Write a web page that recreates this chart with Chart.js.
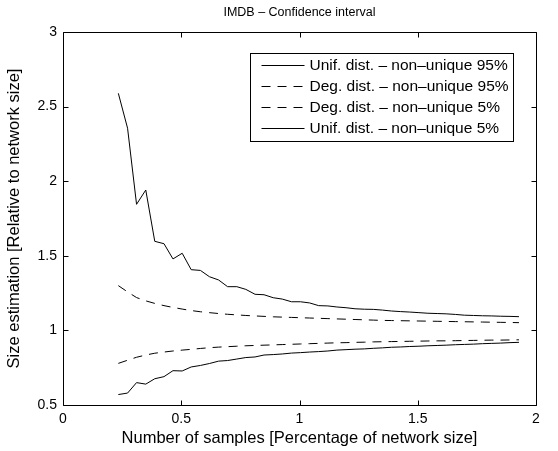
<!DOCTYPE html>
<html>
<head>
<meta charset="utf-8">
<title>IMDB – Confidence interval</title>
<script src="https://cdn.jsdelivr.net/npm/chart.js@4.4.1/dist/chart.umd.min.js"></script>
<style>
  html, body { margin: 0; padding: 0; background: #fff; }
  #chart { display: block; }
</style>
</head>
<body>
<canvas id="chart" width="558" height="451"></canvas>
<script>
// sample sizes, percentage of network size
const samplePct = [
  0.234, 0.273, 0.311, 0.350, 0.388, 0.427, 0.465, 0.504, 0.542, 0.581,
  0.619, 0.658, 0.696, 0.735, 0.773, 0.812, 0.850, 0.889, 0.927, 0.966,
  1.004, 1.043, 1.081, 1.120, 1.158, 1.197, 1.235, 1.274, 1.312, 1.351,
  1.389, 1.428, 1.466, 1.505, 1.543, 1.582, 1.620, 1.659, 1.697, 1.736,
  1.774, 1.813, 1.851, 1.890, 1.928,
];

const unif95 = [
  2.589, 2.355, 1.845, 1.941, 1.597, 1.581, 1.479, 1.517, 1.407, 1.402,
  1.360, 1.338, 1.293, 1.293, 1.275, 1.242, 1.239, 1.219, 1.210, 1.192,
  1.192, 1.184, 1.166, 1.164, 1.157, 1.152, 1.145, 1.142, 1.141, 1.136,
  1.130, 1.126, 1.123, 1.119, 1.115, 1.113, 1.111, 1.107, 1.102, 1.100,
  1.098, 1.097, 1.095, 1.094, 1.092,
];

const deg95 = [
  1.300, 1.258, 1.220, 1.198, 1.181, 1.166, 1.154, 1.143, 1.133, 1.125,
  1.119, 1.113, 1.108, 1.104, 1.100, 1.097, 1.094, 1.091, 1.089, 1.087,
  1.085, 1.083, 1.081, 1.079, 1.077, 1.075, 1.073, 1.071, 1.069, 1.067,
  1.066, 1.065, 1.064, 1.063, 1.062, 1.061, 1.060, 1.059, 1.058, 1.057,
  1.056, 1.055, 1.054, 1.053, 1.052,
];

const deg5 = [
  0.779, 0.800, 0.820, 0.835, 0.847, 0.855, 0.862, 0.868, 0.873, 0.879,
  0.884, 0.888, 0.891, 0.894, 0.897, 0.899, 0.901, 0.903, 0.905, 0.907,
  0.909, 0.911, 0.913, 0.915, 0.917, 0.918, 0.920, 0.921, 0.923, 0.924,
  0.925, 0.926, 0.927, 0.928, 0.929, 0.930, 0.930, 0.931, 0.932, 0.933,
  0.934, 0.935, 0.935, 0.936, 0.937,
];

const unif5 = [
  0.570, 0.580, 0.650, 0.640, 0.676, 0.690, 0.730, 0.728, 0.755, 0.765,
  0.778, 0.794, 0.798, 0.808, 0.818, 0.822, 0.835, 0.838, 0.842, 0.848,
  0.851, 0.855, 0.858, 0.862, 0.868, 0.871, 0.874, 0.876, 0.880, 0.883,
  0.887, 0.889, 0.892, 0.894, 0.897, 0.899, 0.901, 0.904, 0.906, 0.908,
  0.911, 0.913, 0.915, 0.918, 0.920,
];

const seriesLabels = [
  'Unif. dist. \u2013 non\u2013unique 95%',
  'Deg. dist. \u2013 non\u2013unique 95%',
  'Deg. dist. \u2013 non\u2013unique 5%',
  'Unif. dist. \u2013 non\u2013unique 5%',
];

const chartTitle = 'IMDB \u2013 Confidence interval';
const xTicks = [0, 0.5, 1, 1.5, 2];
const yTicks = [0.5, 1, 1.5, 2, 2.5, 3];

const FONT = '"Liberation Sans", Arial, Helvetica, sans-serif';
const DASH = [9, 7];

const toPoints = (ys) => ys.map((y, i) => ({ x: samplePct[i], y }));

// MATLAB-ish box, inward ticks, title over the axes and the boxed legend
const matlabFrame = {
  id: 'matlabFrame',
  afterDraw(chart) {
    const { ctx, chartArea: a, scales: { x, y } } = chart;
    const L = a.left + 0.5, R = a.right + 0.5, T = a.top + 0.5, B = a.bottom + 0.5;
    ctx.save();
    ctx.strokeStyle = '#000';
    ctx.lineWidth = 1;
    ctx.setLineDash([]);
    ctx.beginPath();
    ctx.rect(L, T, R - L, B - T);
    xTicks.forEach(v => {
      const px = Math.round(x.getPixelForValue(v)) + 0.5;
      ctx.moveTo(px, B); ctx.lineTo(px, B - 5);
      ctx.moveTo(px, T); ctx.lineTo(px, T + 5);
    });
    yTicks.forEach(v => {
      const py = Math.round(y.getPixelForValue(v)) + 0.5;
      ctx.moveTo(L, py); ctx.lineTo(L + 5, py);
      ctx.moveTo(R, py); ctx.lineTo(R - 5, py);
    });
    ctx.stroke();

    // title, centred on the axes box
    ctx.fillStyle = '#000';
    ctx.font = '12.5px ' + FONT;
    ctx.textAlign = 'center';
    ctx.textBaseline = 'middle';
    ctx.fillText(chartTitle, (a.left + a.right) / 2, a.top - 19);

    // legend
    ctx.font = '15.5px ' + FONT;
    const textW = Math.max(...seriesLabels.map(s => ctx.measureText(s).width));
    const boxW = Math.round(11 + 43 + 5 + textW + 5);
    const boxH = 88;
    const bx = Math.round(a.right - 23 - boxW) + 0.5;
    const by = a.top + 21 + 0.5;
    ctx.fillStyle = '#fff';
    ctx.fillRect(bx, by, boxW, boxH);
    ctx.strokeRect(bx, by, boxW, boxH);
    ctx.textBaseline = 'middle';
    ctx.textAlign = 'left';
    ctx.fillStyle = '#000';
    chart.data.datasets.forEach((ds, i) => {
      const ry = Math.round(by + 11 + i * 21.3) + 0.5;
      ctx.setLineDash(ds.borderDash || []);
      ctx.beginPath();
      ctx.moveTo(bx + 11, ry);
      ctx.lineTo(bx + 54, ry);
      ctx.stroke();
      ctx.fillText(ds.label, bx + 59, ry);
    });
    ctx.restore();
  },
};

const lineStyle = (label, ys, dashed) => ({
  label,
  data: toPoints(ys),
  borderColor: '#000',
  borderWidth: 1,
  borderDash: dashed ? DASH : [],
  pointRadius: 0,
  tension: 0,
  fill: false,
});

new Chart(document.getElementById('chart'), {
  type: 'line',
  data: {
    datasets: [
      lineStyle(seriesLabels[0], unif95, false),
      lineStyle(seriesLabels[1], deg95, true),
      lineStyle(seriesLabels[2], deg5, true),
      lineStyle(seriesLabels[3], unif5, false),
    ],
  },
  options: {
    responsive: false,
    animation: false,
    devicePixelRatio: 1,
    layout: { padding: { top: 32, right: 22, left: 0, bottom: 0 } },
    plugins: {
      legend: { display: false },
      tooltip: { enabled: false },
      title: { display: false },
    },
    scales: {
      x: {
        type: 'linear',
        min: 0, max: 2,
        afterFit: (s) => { s.height = 46; },
        afterBuildTicks: (s) => { s.ticks = xTicks.map(v => ({ value: v })); },
        grid: { display: false, drawTicks: false },
        border: { display: false },
        ticks: {
          color: '#000', padding: 6, maxRotation: 0,
          font: { family: FONT, size: 14 },
          callback: (v) => String(v),
        },
        title: {
          display: true,
          text: 'Number of samples [Percentage of network size]',
          color: '#000',
          font: { family: FONT, size: 16.5 },
          padding: { top: 0, bottom: 3 },
        },
      },
      y: {
        type: 'linear',
        min: 0.5, max: 3,
        afterFit: (s) => { s.width = 63; },
        afterBuildTicks: (s) => { s.ticks = yTicks.map(v => ({ value: v })); },
        grid: { display: false, drawTicks: false },
        border: { display: false },
        ticks: {
          color: '#000', padding: 6,
          font: { family: FONT, size: 14 },
          callback: (v) => String(v),
        },
        title: {
          display: true,
          text: 'Size estimation [Relative to network size]',
          color: '#000',
          font: { family: FONT, size: 16.5 },
          padding: { top: 5, bottom: 0 },
        },
      },
    },
  },
  plugins: [matlabFrame],
});
</script>
</body>
</html>
